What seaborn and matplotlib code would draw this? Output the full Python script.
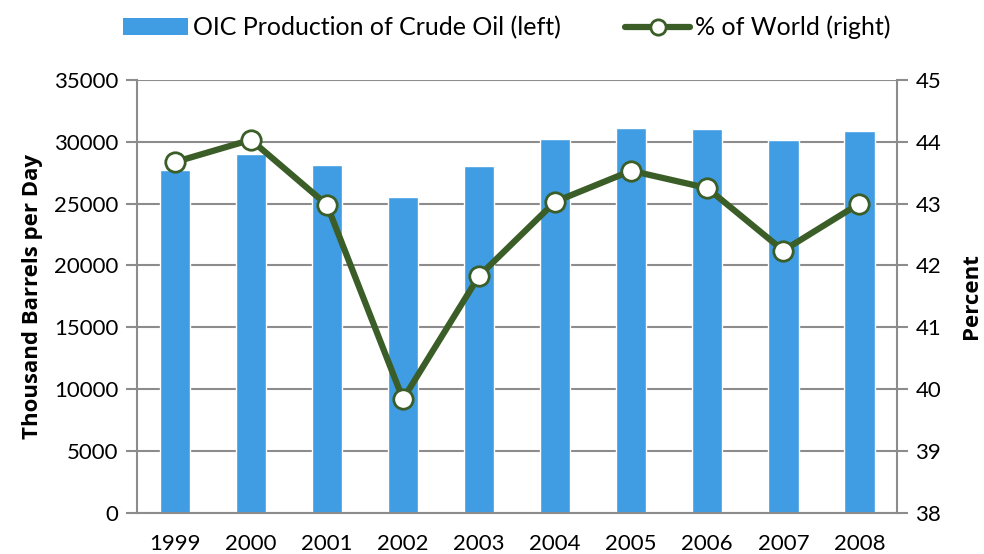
import numpy as np
import pandas as pd
import seaborn as sns
from matplotlib import pyplot as plt
from matplotlib.lines import Line2D
from matplotlib.patches import Patch

years = ["1999", "2000", "2001", "2002", "2003", "2004", "2005", "2006", "2007", "2008"]
production = [27700, 29000, 28100, 25500, 28050, 30250, 31100, 31000, 30150, 30900]
pct_world = [43.67, 44.03, 42.98, 39.84, 41.83, 43.03, 43.53, 43.25, 42.24, 43.0]

sns.set_style("white")
plt.rcParams["font.family"] = ["Lato", "DejaVu Sans"]
plt.rcParams["text.color"] = "black"
plt.rcParams["axes.labelcolor"] = "black"
plt.rcParams["xtick.labelcolor"] = "black"
plt.rcParams["ytick.labelcolor"] = "black"

bar_col = "#409de3"
line_col = "#3b5e28"
grid_col = "#8c8c8c"

df = pd.DataFrame({"year": years, "prod": production, "pct": pct_world})

fig = plt.figure(figsize=(9.84, 5.54), dpi=100)
ax = fig.add_axes([0.139, 0.074, 0.773, 0.782])

sns.barplot(data=df, x="year", y="prod", color=bar_col, width=0.4,
            saturation=1, ax=ax, zorder=2)
ax.set_ylim(0, 35000)
ax.set_xlim(-0.5, 9.5)
ax.set_yticks(np.arange(0, 35001, 5000))
ax.yaxis.grid(True, color=grid_col, linewidth=1.5, zorder=0)
ax.set_axisbelow(True)

ax.set_xticks(np.arange(-0.5, 10, 1), minor=True)
ax.tick_params(axis="x", which="major", length=0, pad=15, labelsize=16)
ax.tick_params(axis="x", which="minor", length=8, width=1.5, color=grid_col, direction="out")
ax.tick_params(axis="y", length=8, width=1.5, color=grid_col, direction="out", labelsize=16, pad=5)

for s in ["left", "bottom", "right"]:
    ax.spines[s].set_color(grid_col)
    ax.spines[s].set_linewidth(1.5)
ax.spines["top"].set_visible(False)

ax.set_xlabel("")
ax.set_ylabel("Thousand Barrels per Day", fontsize=16, fontweight="bold",
              family=["Open Sans", "DejaVu Sans"], labelpad=8)

ax2 = ax.twinx()
sns.lineplot(x=np.arange(len(years)), y=pct_world, ax=ax2, color=line_col,
             linewidth=4.5, marker="o", markersize=14, markerfacecolor="white",
             markeredgecolor=line_col, markeredgewidth=2, zorder=3)
ax2.set_ylim(38, 45)
ax2.set_yticks(np.arange(38, 46, 1))
ax2.tick_params(axis="y", length=8, width=1.5, color=grid_col, direction="out", labelsize=16, pad=5)
for s in ["left", "bottom", "right", "top"]:
    ax2.spines[s].set_visible(False)
ax2.set_ylabel("Percent", fontsize=16, fontweight="bold",
               family=["Open Sans", "DejaVu Sans"], labelpad=14)

handles = [Patch(facecolor=bar_col, edgecolor="none"),
           Line2D([0], [0], color=line_col, linewidth=4.5, marker="o", markersize=11,
                  markerfacecolor="white", markeredgecolor=line_col, markeredgewidth=2)]
fig.legend(handles, ["OIC Production of Crude Oil (left)", "% of World (right)"],
           loc="center", bbox_to_anchor=(0.515, 0.95), ncol=2, frameon=False,
           fontsize=18, handlelength=2.6, handletextpad=0.2, columnspacing=2.6)

plt.savefig("out.png", dpi=100)
